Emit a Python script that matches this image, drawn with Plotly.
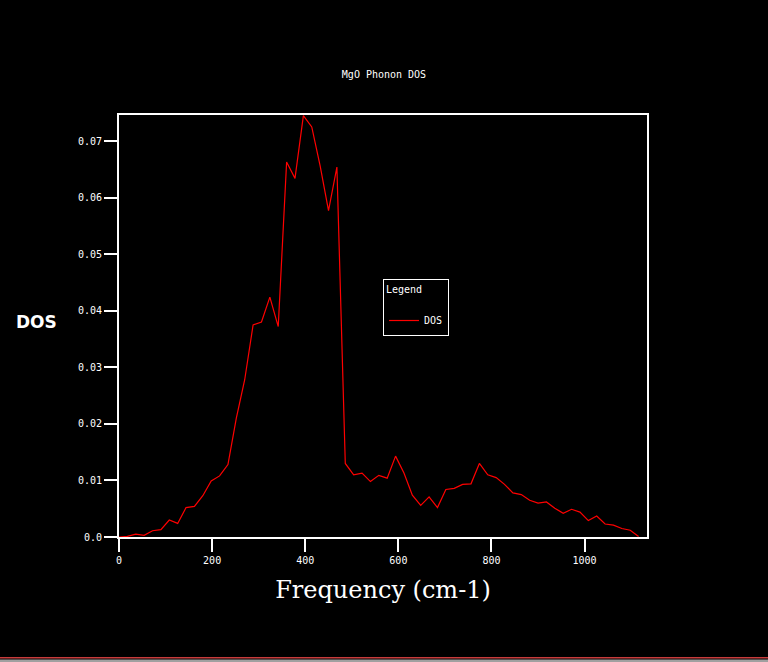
import plotly.graph_objects as go

# ---------- Data ----------

freq = [0, 18, 36, 54, 72, 90, 108, 126, 144, 162,
        180, 198, 216, 234, 252, 270, 288, 306, 324, 342,
        360, 378, 396, 414, 432, 450, 468, 486, 504, 522,
        540, 558, 576, 594, 612, 630, 648, 666, 684, 702,
        720, 738, 756, 774, 792, 810, 828, 846, 864, 882,
        900, 918, 936, 954, 972, 990, 1008, 1026, 1044, 1062,
        1080, 1098, 1116]

dos = [0.0, 0.0001, 0.0005, 0.0003, 0.0011, 0.0013, 0.0030, 0.0024, 0.0052, 0.0054,
       0.0073, 0.0099, 0.0108, 0.0128, 0.0210, 0.0278, 0.0375, 0.0380, 0.0424, 0.0372,
       0.0663, 0.0634, 0.0745, 0.0725, 0.0656, 0.0577, 0.0654, 0.0130, 0.0110, 0.0113,
       0.0098, 0.0109, 0.0104, 0.0143, 0.0113, 0.0074, 0.0056, 0.0071, 0.0052, 0.0084,
       0.0086, 0.0093, 0.0094, 0.0130, 0.0110, 0.0105, 0.0093, 0.0078, 0.0075, 0.0065,
       0.0060, 0.0062, 0.0051, 0.0042, 0.0049, 0.0044, 0.0029, 0.0037, 0.0023, 0.0021,
       0.0015, 0.0012, 0.0001]

x_tickvals = [0, 200, 400, 600, 800, 1000]
x_ticktext = ["0", "200", "400", "600", "800", "1000"]
y_tickvals = [0.0, 0.01, 0.02, 0.03, 0.04, 0.05, 0.06, 0.07]
y_ticktext = ["0.0", "0.01", "0.02", "0.03", "0.04", "0.05", "0.06", "0.07"]

# ---------- Figure ----------

W, H = 768, 662
L, R, T, B = 119, 121, 115, 125
plot_h = H - T - B
plot_w = W - L - R

small_font = dict(family="DejaVu Sans Mono", size=10, color="white")

fig = go.Figure()
fig.add_trace(go.Scatter(
    x=freq, y=dos,
    mode='lines',
    line=dict(color='#ff0000', width=1.2),
    name='DOS'
))

axis_common = dict(
    showgrid=False, zeroline=False,
    showline=True, linecolor='white', linewidth=2, mirror=True,
    ticks='outside', ticklen=13, tickwidth=2, tickcolor='white',
    tickfont=small_font,
)

fig.update_layout(
    width=W, height=H,
    margin=dict(l=L, r=R, t=T, b=B),
    paper_bgcolor='black',
    plot_bgcolor='black',
    font=small_font,
    title=dict(text="MgO Phonon DOS", x=0.5, xanchor='center',
               y=1 - 74 / H, yanchor='middle', font=small_font),
    xaxis=dict(range=[0, 1134], tickvals=x_tickvals, ticktext=x_ticktext,
               title=dict(text="Frequency (cm-1)", standoff=16,
                          font=dict(family="DejaVu Serif", size=24, color="white")),
               **axis_common),
    yaxis=dict(range=[0, 0.0746], tickvals=y_tickvals, ticktext=y_ticktext,
               **axis_common),
    showlegend=True,
    legend=dict(
        x=0.5, xanchor='left', y=(537 - 279) / plot_h, yanchor='top',
        bgcolor='black', bordercolor='white', borderwidth=1,
        font=small_font, itemwidth=30,
        title=dict(text="Legend<br> ", font=small_font, side='top'),
    ),
)

# horizontal y-axis label
fig.add_annotation(
    text="<b>DOS</b>", xref='paper', yref='paper',
    x=-(L - 36) / plot_w, y=(537 - 322) / plot_h,
    xanchor='center', yanchor='middle', showarrow=False,
    font=dict(family="DejaVu Sans", size=17, color="white"),
)

# strip along the bottom edge of the window
fig.add_shape(type='rect', xref='paper', yref='paper',
              x0=-L / plot_w, x1=(W - L) / plot_w,
              y0=-(657 - 537) / plot_h, y1=-(658.5 - 537) / plot_h,
              line=dict(width=0), fillcolor='#c83c3c', layer='above')
fig.add_shape(type='rect', xref='paper', yref='paper',
              x0=-L / plot_w, x1=(W - L) / plot_w,
              y0=-(659.5 - 537) / plot_h, y1=-(H - 537) / plot_h,
              line=dict(width=0), fillcolor='#a0a0a0', layer='above')

# page has no margin, black background
page_js = ("document.body.style.margin='0';"
           "document.body.style.background='black';"
           "document.body.style.overflow='hidden';")

fig.write_html("out.html", config=dict(displayModeBar=False), post_script=page_js)
